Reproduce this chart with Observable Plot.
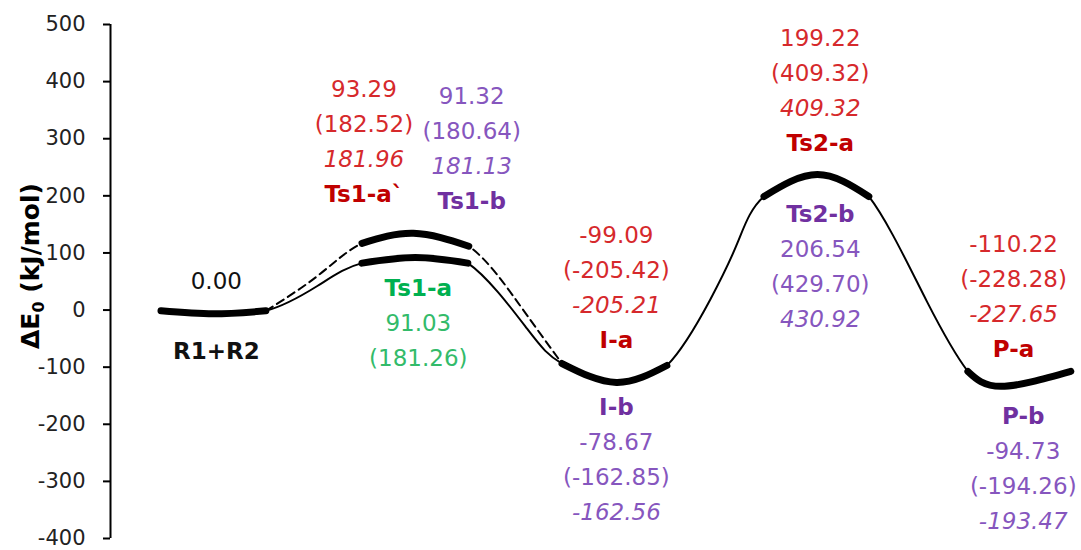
<!DOCTYPE html>
<html>
<head>
<meta charset="utf-8">
<script src="https://cdn.jsdelivr.net/npm/d3@7"></script>
<script src="https://cdn.jsdelivr.net/npm/@observablehq/plot@0.6"></script>
<style>
  html, body { margin: 0; padding: 0; background: #fff; }
  #chart { width: 1081px; height: 550px; }
</style>
</head>
<body>
<div id="chart"></div>
<script>
// ---- data ----
const yTicks = [-400, -300, -200, -100, 0, 100, 200, 300, 400, 500];

// main (solid) energy profile: reaction coordinate vs ΔE0 (kJ/mol)
const profileX = [0.52, 1.06, 1.60, 2.13, 2.59, 3.14, 3.68, 4.29, 4.65, 5.21, 5.73, 6.18, 6.46, 6.73, 7.28, 7.81, 8.41, 8.83, 9.17, 9.89];
const profileY = [-1.4, -6.6, -1.4, 42.1, 82.2, 92.0, 82.2, -32.7, -93.6, -126.7, -97.1, 19.5, 118.8, 198.9, 237.2, 198.9, 14.3, -107.5, -133.6, -107.5];

// alternative (dashed) path through Ts1-a`
const altX = [1.60, 2.13, 2.59, 3.12, 3.69, 4.22, 4.65];
const altY = [-1.4, 59.5, 116.9, 134.3, 111.8, 7.3, -93.6];

// stationary points (index ranges of each path drawn thick)
const profileStationary = [[0, 2], [4, 6], [8, 10], [13, 15], [17, 19]];
const altStationary = [[2, 4]];

// labels
const species = ["R1+R2", "Ts1-a", "Ts1-a`", "Ts1-b", "I-a", "I-b", "Ts2-a", "Ts2-b", "P-a", "P-b"];
const e0Text = ["0.00", "91.03", "93.29", "91.32", "-99.09", "-78.67", "199.22", "206.54", "-110.22", "-94.73"];
const parenText = ["", "(181.26)", "(182.52)", "(180.64)", "(-205.42)", "(-162.85)", "(409.32)", "(429.70)", "(-228.28)", "(-194.26)"];
const italText = ["", "", "181.96", "181.13", "-205.21", "-162.56", "409.32", "430.92", "-227.65", "-193.47"];

// ---- layout / style (kept separate from data) ----
const layout = {
  "R1+R2":  {x: 1.09, y: 49.1,   order: {e0: 0, name: 2}, pal: "black"},
  "Ts1-a":  {x: 3.17, y: 36.9,   order: {name: 0, e0: 1, paren: 2}, pal: "green"},
  "Ts1-a`": {x: 2.61, y: 385.1,  order: {e0: 0, paren: 1, ital: 2, name: 3}, pal: "red"},
  "Ts1-b":  {x: 3.72, y: 372.9,  order: {e0: 0, paren: 1, ital: 2, name: 3}, pal: "purple"},
  "I-a":    {x: 5.21, y: 130.9,  order: {e0: 0, paren: 1, ital: 2, name: 3}, pal: "red"},
  "I-b":    {x: 5.21, y: -170.3, order: {name: 0, e0: 1, paren: 2, ital: 3}, pal: "purple"},
  "Ts2-a":  {x: 7.31, y: 475.6,  order: {e0: 0, paren: 1, ital: 2, name: 3}, pal: "red"},
  "Ts2-b":  {x: 7.31, y: 167.5,  order: {name: 0, e0: 1, paren: 2, ital: 3}, pal: "purple"},
  "P-a":    {x: 9.30, y: 115.4,  order: {e0: 0, paren: 1, ital: 2, name: 3}, pal: "red"},
  "P-b":    {x: 9.40, y: -185.9, order: {name: 0, e0: 1, paren: 2, ital: 3}, pal: "purple"}
};
const palettes = {
  black:  {num: "#111111", name: "#111111"},
  green:  {num: "#33bb6a", name: "#00b050"},
  red:    {num: "#d6292c", name: "#c00000"},
  purple: {num: "#8656be", name: "#7030a0"}
};
const LINE = 35;
const CURVE = "natural";
const THICK = 7;

const profile = profileX.map((x, i) => ({x, y: profileY[i]}));
const alt = altX.map((x, i) => ({x, y: altY[i]}));

const items = [];
species.forEach((s, i) => {
  const L = layout[s];
  const texts = {name: s, e0: e0Text[i], paren: parenText[i], ital: italText[i]};
  for (const kind of Object.keys(L.order)) {
    if (!texts[kind]) continue;
    items.push({
      kind, text: texts[kind], x: L.x, y: L.y, line: L.order[kind],
      fill: kind === "name" ? palettes[L.pal].name : palettes[L.pal].num
    });
  }
});

const textMarks = [];
for (let line = 0; line < 4; line++) {
  for (const kind of ["name", "e0", "paren", "ital"]) {
    const sub = items.filter(d => d.line === line && d.kind === kind);
    if (!sub.length) continue;
    textMarks.push(Plot.text(sub, {
      x: "x", y: "y", text: "text", fill: "fill",
      dy: line * LINE,
      fontSize: 23,
      fontWeight: kind === "name" ? "bold" : "normal",
      fontStyle: kind === "ital" ? "italic" : "normal"
    }));
  }
}

// thick arcs at the stationary points
const sliceRange = (arr, [a, b]) => arr.slice(a, b + 1);
const thickMarks = [
  ...profileStationary.map(r => Plot.line(sliceRange(profile, r), {
    x: "x", y: "y", curve: CURVE, stroke: "#000", strokeWidth: THICK, strokeLinecap: "round"
  })),
  ...altStationary.map(r => Plot.line(sliceRange(alt, r), {
    x: "x", y: "y", curve: CURVE, stroke: "#000", strokeWidth: THICK, strokeLinecap: "round"
  }))
];

const chart = Plot.plot({
  width: 1081,
  height: 550,
  marginLeft: 110,
  marginRight: 0,
  marginTop: 24,
  marginBottom: 12,
  style: {fontFamily: "'DejaVu Sans', sans-serif", fontSize: "21px", background: "#fff", overflow: "visible"},
  x: {domain: [0, 10], axis: null},
  y: {domain: [-400, 500], axis: null},
  color: {type: "identity"},
  marks: [
    Plot.axisY(yTicks, {
      tickSize: 7, tickPadding: 18, fontSize: 21, label: null,
      stroke: "#000", strokeWidth: 2, fill: "#222", tickFormat: d => String(d)
    }),
    Plot.ruleX([0], {y1: -400, y2: 500, stroke: "#000", strokeWidth: 2}),
    Plot.line(profile, {x: "x", y: "y", curve: CURVE, stroke: "#000", strokeWidth: 2}),
    Plot.line(alt, {x: "x", y: "y", curve: CURVE, stroke: "#000", strokeWidth: 2, strokeDasharray: "8,5"}),
    ...thickMarks,
    ...textMarks
  ]
});

document.getElementById("chart").appendChild(chart);

// restrict the thin connecting curves to the gaps between stationary points
const svg = d3.select(chart);
const xScale = chart.scale("x");
const defs = svg.insert("defs", ":first-child");
const lineGroups = svg.selectAll("g[aria-label='line']").nodes();
function clipToGaps(gNode, xs, ranges, id) {
  if (!gNode) return;
  const gaps = [];
  let prev = 0;
  for (const [a, b] of ranges) {
    if (a > prev) gaps.push([prev, a]);
    prev = b;
  }
  if (prev < xs.length - 1) gaps.push([prev, xs.length - 1]);
  const clip = defs.append("clipPath").attr("id", id).attr("clipPathUnits", "userSpaceOnUse");
  for (const [a, b] of gaps) {
    const x0 = xScale.apply(xs[a]), x1 = xScale.apply(xs[b]);
    clip.append("rect").attr("x", x0).attr("y", -50).attr("width", x1 - x0).attr("height", 700);
  }
  gNode.setAttribute("clip-path", `url(#${id})`);
}
clipToGaps(lineGroups[0], profileX, profileStationary, "clip-profile");
clipToGaps(lineGroups[1], altX, altStationary, "clip-alt");

// y-axis title with subscript
const title = svg.append("text")
  .attr("transform", "translate(39,266) rotate(-90)")
  .attr("text-anchor", "middle")
  .attr("font-family", "'DejaVu Sans', sans-serif")
  .attr("font-weight", "bold")
  .attr("font-size", 25)
  .attr("fill", "#000");
title.append("tspan").text("ΔE");
title.append("tspan").attr("font-size", 16).attr("dy", 5).text("0");
title.append("tspan").attr("dy", -5).text(" (kJ/mol)");
</script>
</body>
</html>
